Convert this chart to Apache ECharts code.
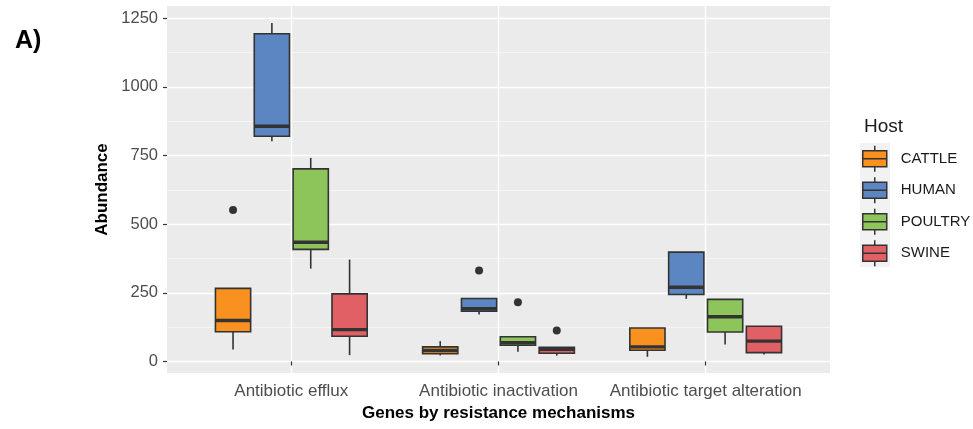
<!DOCTYPE html>
<html>
<head>
<meta charset="utf-8">
<script src="https://cdn.jsdelivr.net/npm/echarts@6/dist/echarts.min.js"></script>
<style>html,body{margin:0;padding:0;background:#fff}#c{width:973px;height:429px}</style>
</head>
<body>
<div id="c"></div>
<script>
// ---- data ----
const categories = ['Antibiotic efflux', 'Antibiotic inactivation', 'Antibiotic target alteration'];
const hosts = ['CATTLE', 'HUMAN', 'POULTRY', 'SWINE'];
// [min whisker, Q1, median, Q3, max whisker] per category
const cattleBoxes  = [[44, 108, 149, 266, 266], [22, 28, 40, 53, 74],   [17, 41, 53, 122, 122]];
const humanBoxes   = [[802, 820, 856, 1193, 1232], [171, 183, 192, 229, 229], [228, 244, 270, 398, 398]];
const poultryBoxes = [[338, 408, 434, 701, 741], [35, 59, 68, 90, 90], [62, 107, 163, 226, 226]];
const swineBoxes   = [[23, 92, 116, 246, 371], [21, 30, 44, 52, 52], [25, 32, 74, 128, 128]];
// outliers: [category index, value]
const cattleOutliers  = [[0, 551]];
const humanOutliers   = [[1, 331]];
const poultryOutliers = [[1, 216]];
const swineOutliers   = [[1, 113]];
const yTicks = [0, 250, 500, 750, 1000, 1250];
const yMinorTicks = [125, 375, 625, 875, 1125];

// ---- build ----
const boxesByHost = [cattleBoxes, humanBoxes, poultryBoxes, swineBoxes];
const outliersByHost = [cattleOutliers, humanOutliers, poultryOutliers, swineOutliers];
const colors = ['#F8911F', '#5B86C1', '#8DC55B', '#E06066'];
const dodgeStep = 0.1875;
const boxW = 0.17;
const edge = '#333333';

function dodge(h) { return (h - 1.5) * dodgeStep; }

const series = [];
hosts.forEach(function (name, h) {
  series.push({
    type: 'custom',
    name: name,
    itemStyle: { color: colors[h] },
    encode: { x: 0, y: [1, 2, 3, 4, 5] },
    data: boxesByHost[h].map(function (b, i) { return [i + 1].concat(b); }),
    renderItem: function (params, api) {
      const x = api.value(0) + dodge(h);
      const pMin = api.coord([x, api.value(1)]);
      const pQ1 = api.coord([x, api.value(2)]);
      const pMed = api.coord([x, api.value(3)]);
      const pQ3 = api.coord([x, api.value(4)]);
      const pMax = api.coord([x, api.value(5)]);
      const hw = api.size([boxW, 0])[0] / 2;
      const ls = { stroke: edge, lineWidth: 1.6 };
      return {
        type: 'group',
        children: [
          { type: 'line', shape: { x1: pMax[0], y1: pMax[1], x2: pQ3[0], y2: pQ3[1] }, style: ls },
          { type: 'line', shape: { x1: pQ1[0], y1: pQ1[1], x2: pMin[0], y2: pMin[1] }, style: ls },
          { type: 'rect', shape: { x: pQ3[0] - hw, y: pQ3[1], width: hw * 2, height: pQ1[1] - pQ3[1] },
            style: { fill: colors[h], stroke: edge, lineWidth: 1.6 } },
          { type: 'line', shape: { x1: pMed[0] - hw, y1: pMed[1], x2: pMed[0] + hw, y2: pMed[1] },
            style: { stroke: edge, lineWidth: 3.4 } }
        ]
      };
    },
    z: 3
  });
});
hosts.forEach(function (name, h) {
  series.push({
    type: 'scatter',
    name: name,
    symbolSize: 8,
    itemStyle: { color: '#333333', opacity: 1 },
    data: outliersByHost[h].map(function (o) { return [o[0] + 1 + dodge(h), o[1]]; }),
    z: 4
  });
});

const iconPath = 'path://M0,5 L24,5 L24,21 L0,21 Z M12,0 L12,5 M12,21 L12,26 M0,13 L24,13';

const option = {
  animation: false,
  backgroundColor: '#ffffff',
  title: [
    { text: 'A)', left: 10, top: 24, textStyle: { fontFamily: 'Liberation Sans', fontSize: 25, fontWeight: 'bold', color: '#000' } },
    { text: 'Host', left: 859, top: 112, textStyle: { fontFamily: 'Liberation Sans', fontSize: 19, fontWeight: 'normal', color: '#1a1a1a' } }
  ],
  graphic: [
    { type: 'rect', left: 860, top: 143, shape: { width: 30, height: 124 }, style: { fill: '#F2F2F2' }, z: -1 }
  ],
  legend: {
    orient: 'vertical',
    left: 862,
    top: 145,
    padding: 0,
    itemWidth: 24,
    itemHeight: 26,
    itemGap: 4,
    selectedMode: false,
    textStyle: { fontFamily: 'Liberation Sans', fontSize: 15, color: '#1a1a1a', padding: [0, 0, 0, 9], lineHeight: 16 },
    data: hosts.map(function (n, h) {
      return { name: n, icon: iconPath, itemStyle: { color: colors[h], borderColor: edge, borderWidth: 1.5 } };
    })
  },
  grid: {
    left: 167, right: 143, top: 6, bottom: 56,
    show: true, backgroundColor: '#EBEBEB', borderWidth: 0
  },
  xAxis: {
    type: 'value',
    min: 0.4, max: 3.6,
    name: 'Genes by resistance mechanisms',
    nameLocation: 'middle',
    nameGap: 32,
    nameTextStyle: { fontFamily: 'Liberation Sans', fontSize: 17, fontWeight: 'bold', color: '#000' },
    axisLine: { show: false },
    axisTick: { show: true, length: 4, lineStyle: { color: '#333', width: 1.2 }, customValues: [1, 2, 3] },
    axisLabel: {
      customValues: [1, 2, 3], margin: 10,
      fontFamily: 'Liberation Sans', fontSize: 17, color: '#4D4D4D',
      formatter: function (v) { return categories[Math.round(v) - 1]; }
    },
    splitLine: { show: true, lineStyle: { color: '#ffffff', width: 1.4 } }
  },
  yAxis: [{
    type: 'value',
    min: -42, max: 1294,
    name: 'Abundance',
    nameLocation: 'middle',
    nameGap: 46,
    nameTextStyle: { fontFamily: 'Liberation Sans', fontSize: 17, fontWeight: 'bold', color: '#000' },
    axisLine: { show: false },
    axisTick: { show: true, length: 4, lineStyle: { color: '#333', width: 1.2 }, customValues: yTicks },
    axisLabel: {
      customValues: yTicks, margin: 9, fontFamily: 'Liberation Sans', fontSize: 16.5, color: '#4D4D4D',
      formatter: function (v) { return String(v); }
    },
    splitLine: { show: true, lineStyle: { color: '#ffffff', width: 1.4 } }
  }, {
    type: 'value',
    min: -42, max: 1294,
    position: 'left',
    axisLine: { show: false },
    axisTick: { show: false, customValues: yMinorTicks },
    axisLabel: { show: false, customValues: yMinorTicks },
    splitLine: { show: true, lineStyle: { color: '#F7F7F7', width: 0.8 } }
  }],
  series: series
};

const chart = echarts.init(document.getElementById('c'), null, { renderer: 'canvas' });
chart.setOption(option);
</script>
</body>
</html>
